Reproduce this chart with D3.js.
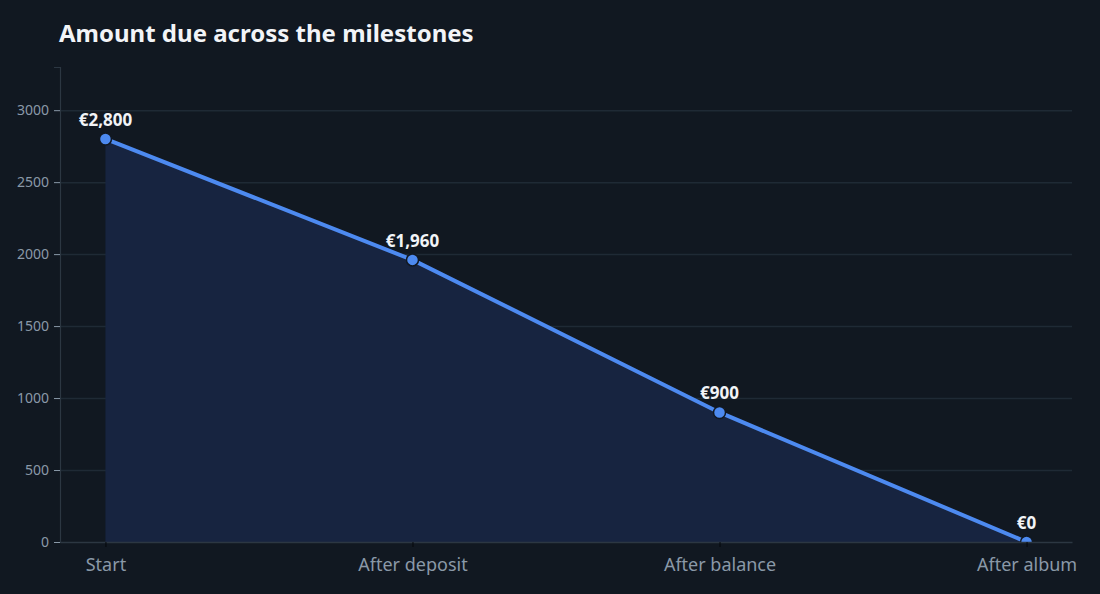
<!DOCTYPE html>
<html lang="en">
<head>
<meta charset="UTF-8">
<title>Amount due across the milestones</title>
<style>
  html, body { margin: 0; padding: 0; background: #111821; }
  body { font-family: "Noto Sans", "Open Sans", sans-serif; }
  svg { display: block; }
</style>
</head>
<body>
<svg id="chart" width="1100" height="594"></svg>
<script src="https://d3js.org/d3.v7.min.js"></script>
<script>
// data
const milestones = ["Start", "After deposit", "After balance", "After album"];
const amountDue = [2800, 1960, 900, 0];
const yTicks = [0, 500, 1000, 1500, 2000, 2500, 3000];

const width = 1100, height = 594;
const margin = {top: 67, right: 28, bottom: 52, left: 60};

const svg = d3.select("#chart");

svg.append("rect").attr("width", width).attr("height", height).attr("fill", "#111821");

svg.append("text")
    .attr("x", 59).attr("y", 42)
    .attr("fill", "#f2f4f7")
    .attr("font-size", 24).attr("font-weight", 700)
    .text("Amount due across the milestones");

const x = d3.scalePoint()
    .domain(milestones)
    .range([margin.left, width - margin.right])
    .padding(0.148);

const y = d3.scaleLinear()
    .domain([0, 3300])
    .range([height - margin.bottom, margin.top]);

const points = milestones.map((m, i) => ({name: m, value: amountDue[i]}));

// grid
svg.append("g")
    .selectAll("line")
    .data(yTicks.filter(d => d > 0))
    .join("line")
    .attr("x1", margin.left).attr("x2", width - margin.right)
    .attr("y1", d => y(d) + 0.5).attr("y2", d => y(d) + 0.5)
    .attr("stroke", "#1f2a35").attr("stroke-width", 1.5);

// clip to plot area
svg.append("clipPath").attr("id", "plot")
  .append("rect")
    .attr("x", margin.left).attr("y", margin.top)
    .attr("width", width - margin.right - margin.left)
    .attr("height", height - margin.bottom - margin.top);

const plot = svg.append("g").attr("clip-path", "url(#plot)");

const area = d3.area()
    .x(d => x(d.name))
    .y0(y(0))
    .y1(d => y(d.value));

const line = d3.line()
    .x(d => x(d.name))
    .y(d => y(d.value));

plot.append("path")
    .datum(points)
    .attr("d", area)
    .attr("fill", "#172440");

plot.append("path")
    .datum(points)
    .attr("d", line)
    .attr("fill", "none")
    .attr("stroke", "#4d8af0")
    .attr("stroke-width", 4)
    .attr("stroke-linejoin", "round");

plot.append("g")
    .selectAll("circle")
    .data(points)
    .join("circle")
    .attr("cx", d => x(d.name))
    .attr("cy", d => y(d.value))
    .attr("r", 6)
    .attr("fill", "#4d8af0")
    .attr("stroke", "#111821")
    .attr("stroke-width", 1.5);

// axes
const yAxis = svg.append("g")
    .attr("transform", `translate(${margin.left},0)`)
    .call(d3.axisLeft(y).tickValues(yTicks).tickFormat(d3.format("d")).tickSize(6).tickPadding(5));
yAxis.select(".domain").attr("stroke", "#2c3742").attr("stroke-width", 1.2);
yAxis.selectAll(".tick line").attr("stroke", "#8a99a8");
yAxis.selectAll(".tick text")
    .attr("fill", "#8a99a8").attr("font-size", 14)
    .attr("font-family", "'Noto Sans', sans-serif");

const xAxis = svg.append("g")
    .attr("transform", `translate(0,${y(0)})`)
    .call(d3.axisBottom(x).tickSize(5).tickPadding(11).tickSizeOuter(0));
xAxis.select(".domain").attr("stroke", "#2c3742").attr("stroke-width", 1.5);
xAxis.selectAll(".tick line").attr("stroke", "#05080c");
xAxis.selectAll(".tick text")
    .attr("fill", "#8a99a8").attr("font-size", 18)
    .attr("font-family", "'Noto Sans', sans-serif");

// value labels
svg.append("g")
    .selectAll("text")
    .data(points)
    .join("text")
    .attr("x", d => x(d.name))
    .attr("y", d => y(d.value) - 13)
    .attr("text-anchor", "middle")
    .attr("fill", "#f2f4f7")
    .attr("font-size", 17).attr("font-weight", 700)
    .text(d => "€" + d3.format(",")(d.value));
</script>
</body>
</html>
